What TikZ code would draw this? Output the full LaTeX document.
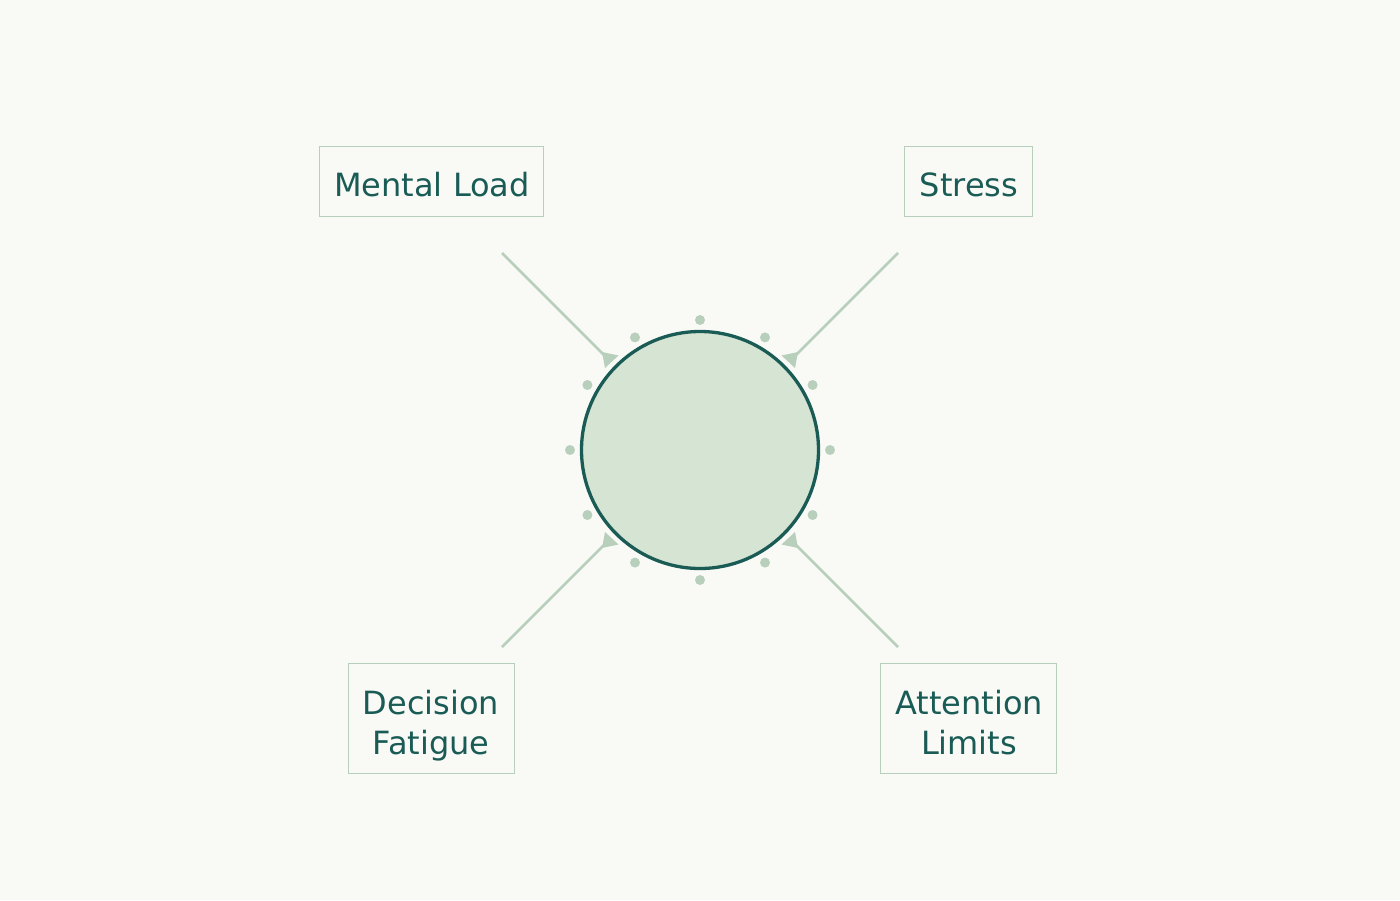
\documentclass[tikz,border=0pt]{standalone}
\usepackage{fontspec}
\usetikzlibrary{calc}
\setmainfont{DejaVu Sans}
\definecolor{bg}{HTML}{F9FAF6}
\definecolor{ink}{HTML}{1A5C55}
\definecolor{sage}{HTML}{B8CFBC}
\definecolor{disc}{HTML}{D5E4D3}
\tikzset{
  label box/.style={draw=sage, line width=1pt, fill=bg, inner sep=0pt},
  label text/.style={text=ink, font=\fontsize{32}{40}\selectfont, inner sep=0pt, anchor=base},
  link/.style={draw=sage, line width=2.8pt},
  tipfill/.style={fill=sage},
  dot/.style={circle, fill=sage, minimum size=10pt, inner sep=0pt},
}
\begin{document}
\begin{tikzpicture}[x=1pt,y=-1pt]
\useasboundingbox (0,0) rectangle (1400,900);
\fill[bg] (0,0) rectangle (1400,900);
% central disc
\node[circle, draw=ink, line width=3.3pt, fill=disc, minimum size=237pt, inner sep=0pt] (hub) at (700,450) {};
% ring of dots
\foreach \a [count=\i] in {0,30,...,330}
  \node[dot] (d\i) at ($(700,450)+(\a:130)$) {};
% boxes
\node[label box, minimum width=224pt, minimum height=70pt] (ml) at (431,181) {};
\node[label box, minimum width=128pt, minimum height=70pt] (st) at (968,181) {};
\node[label box, minimum width=166pt, minimum height=110pt] (df) at (431,718) {};
\node[label box, minimum width=176pt, minimum height=110pt] (al) at (968,718) {};
% labels
\node[label text] (mlt) at (432,196.5) {Mental Load};
\node[label text] (stt) at (969,196.5) {Stress};
\node[label text] (dft1) at (431,714.5) {Decision};
\node[label text] (dft2) at (431,754.5) {Fatigue};
\node[label text] (alt1) at (969,714.5) {Attention};
\node[label text] (alt2) at (969,754.5) {Limits};
% connector ends
\coordinate (s1) at (502,253); \coordinate (e1) at (608,359);
\coordinate (s2) at (898,253); \coordinate (e2) at (792,359);
\coordinate (s3) at (502,647); \coordinate (e3) at (608,541);
\coordinate (s4) at (898,647); \coordinate (e4) at (792,541);
\draw[link] (s1) -- (e1);
\draw[link] (s2) -- (e2);
\draw[link] (s3) -- (e3);
\draw[link] (s4) -- (e4);
% arrow heads
\fill[tipfill] (602,352) -- (618.5,355.5) -- (605,368) -- cycle;
\fill[tipfill] (798,352) -- (781.5,355.5) -- (795,368) -- cycle;
\fill[tipfill] (602,548) -- (618.5,544.5) -- (605,532) -- cycle;
\fill[tipfill] (798,548) -- (781.5,544.5) -- (795,532) -- cycle;
\end{tikzpicture}
\end{document}
